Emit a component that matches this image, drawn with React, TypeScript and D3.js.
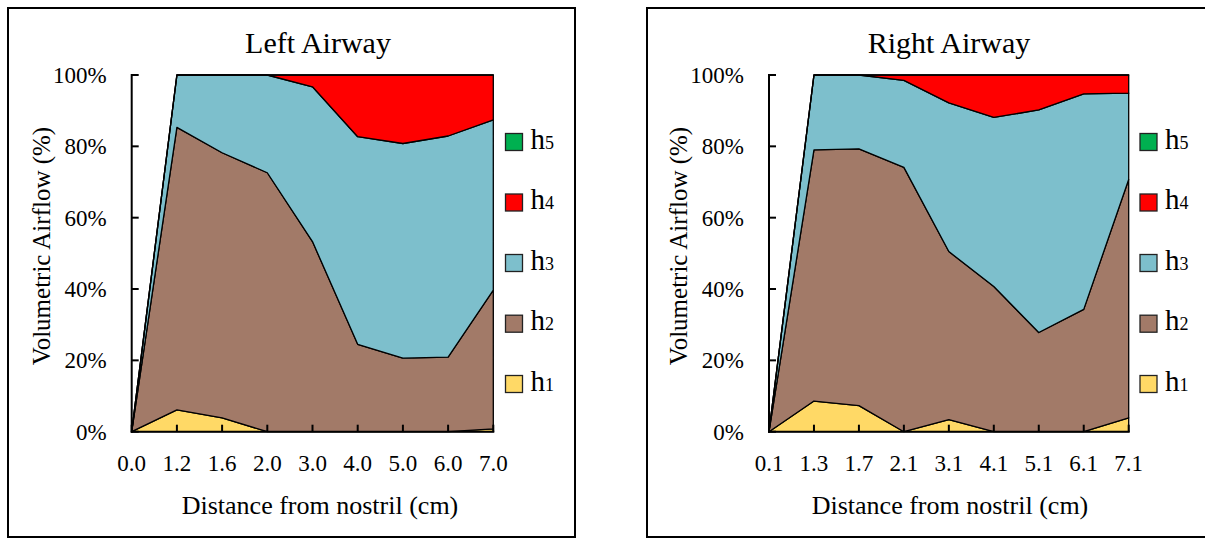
import React from "react";
import * as d3 from "d3";

const seriesKeys = ["h1", "h2", "h3", "h4", "h5"];
const seriesColors = ["#FFD966", "#A27A68", "#7DBFCC", "#FF0000", "#00B050"];
const yTicks = [0, 20, 40, 60, 80, 100];

const leftCategories = ["0.0", "1.2", "1.6", "2.0", "3.0", "4.0", "5.0", "6.0", "7.0"];
const leftH1 = [0, 6.1, 3.9, 0, 0, 0, 0, 0, 0.8];
const leftH2 = [0, 79.2, 74.3, 72.6, 53.3, 24.5, 20.6, 20.9, 38.9];
const leftH3 = [0, 14.7, 21.8, 27.4, 43.4, 58.2, 60.2, 62.0, 47.7];
const leftH4 = [0, 0, 0, 0, 3.3, 17.3, 19.2, 17.1, 12.6];
const leftH5 = [0, 0, 0, 0, 0, 0, 0, 0, 0];

const rightCategories = ["0.1", "1.3", "1.7", "2.1", "3.1", "4.1", "5.1", "6.1", "7.1"];
const rightH1 = [0, 8.6, 7.3, 0, 3.4, 0, 0, 0, 3.9];
const rightH2 = [0, 70.4, 72.0, 74.1, 47.1, 40.7, 27.8, 34.3, 66.8];
const rightH3 = [0, 21.0, 20.7, 24.4, 41.7, 47.4, 62.4, 60.4, 24.2];
const rightH4 = [0, 0, 0, 1.5, 7.8, 11.9, 9.8, 5.3, 5.1];
const rightH5 = [0, 0, 0, 0, 0, 0, 0, 0, 0];

const FONT = "Liberation Serif, DejaVu Serif, serif";

type PanelProps = {
  title: string;
  categories: string[];
  series: number[][];
  box: [number, number, number, number];
  plotL: number;
  plotR: number;
  titleX: number;
  xTitleX: number;
  yTitleX: number;
  legendX: number;
};

const TOP = 75;
const BOTTOM = 431.7;

function Panel(p: PanelProps) {
  const x = d3.scalePoint<string>().domain(p.categories).range([p.plotL, p.plotR]);
  const y = d3.scaleLinear().domain([0, 100]).range([BOTTOM, TOP]);
  const rows = p.categories.map((c, i) => {
    const r: any = { cat: c };
    seriesKeys.forEach((k, j) => (r[k] = p.series[j][i]));
    return r;
  });
  const stacked = d3.stack<any>().keys(seriesKeys)(rows);
  const area = d3
    .area<any>()
    .x((d) => x(d.data.cat) as number)
    .y0((d) => y(d[0]))
    .y1((d) => y(d[1]));
  const legendCenters = [384, 323.7, 263, 202.5, 142];
  const ts = { fontFamily: FONT };
  return (
    <g>
      <rect x={p.box[0]} y={p.box[1]} width={p.box[2]} height={p.box[3]} fill="#fff" stroke="#000" strokeWidth={2} />
      <text x={p.titleX} y={53} textAnchor="middle" fontSize={30} style={ts}>
        {p.title}
      </text>
      {stacked.map((s, i) => (
        <path key={s.key} d={area(s) || ""} fill={seriesColors[i]} stroke="#000" strokeWidth={1.3} strokeLinejoin="round" />
      ))}
      <line x1={p.plotL} x2={p.plotL} y1={TOP - 1} y2={BOTTOM + 1} stroke="#000" strokeWidth={2} />
      {yTicks.map((t) => (
        <g key={t}>
          <line x1={p.plotL} x2={p.plotL + 7} y1={y(t)} y2={y(t)} stroke="#000" strokeWidth={2} />
          <text x={p.plotL - 25} y={y(t) + 8} textAnchor="end" fontSize={23} style={ts}>
            {t}%
          </text>
        </g>
      ))}
      <line x1={p.plotL - 1} x2={p.plotR + 1} y1={BOTTOM} y2={BOTTOM} stroke="#000" strokeWidth={2} />
      {p.categories.map((c) => (
        <g key={c}>
          <line x1={x(c)} x2={x(c)} y1={BOTTOM} y2={BOTTOM - 7} stroke="#000" strokeWidth={2} />
          <text x={x(c)} y={470.5} textAnchor="middle" fontSize={23} style={ts}>
            {c}
          </text>
        </g>
      ))}
      <text x={p.xTitleX} y={514} textAnchor="middle" fontSize={26} style={ts}>
        Distance from nostril (cm)
      </text>
      <text
        transform={`translate(${p.yTitleX},${246}) rotate(-90)`}
        textAnchor="middle"
        fontSize={25}
        style={ts}
      >
        Volumetric Airflow (%)
      </text>
      {seriesKeys.map((k, i) => (
        <g key={k}>
          <rect
            x={p.legendX}
            y={legendCenters[i] - 8.5}
            width={17}
            height={17}
            fill={seriesColors[i]}
            stroke="#222"
            strokeWidth={1.3}
          />
          <text x={p.legendX + 25} y={legendCenters[i] + 6.5} fontSize={29} style={ts}>
            h<tspan fontSize={18}>{k.slice(1)}</tspan>
          </text>
        </g>
      ))}
    </g>
  );
}

export default function App() {
  return (
    <svg
      width={1205}
      height={538}
      style={{ position: "absolute", left: 0, top: 0, background: "#fff" }}
    >
      <rect x={0} y={0} width={1205} height={538} fill="#fff" />
      <Panel
        title="Left Airway"
        categories={leftCategories}
        series={[leftH1, leftH2, leftH3, leftH4, leftH5]}
        box={[8, 8, 567, 529]}
        plotL={131.7}
        plotR={493.3}
        titleX={318}
        xTitleX={320}
        yTitleX={50}
        legendX={505.5}
      />
      <Panel
        title="Right Airway"
        categories={rightCategories}
        series={[rightH1, rightH2, rightH3, rightH4, rightH5]}
        box={[647, 8, 570, 529]}
        plotL={769}
        plotR={1128.7}
        titleX={949}
        xTitleX={950}
        yTitleX={687}
        legendX={1140}
      />
    </svg>
  );
}
